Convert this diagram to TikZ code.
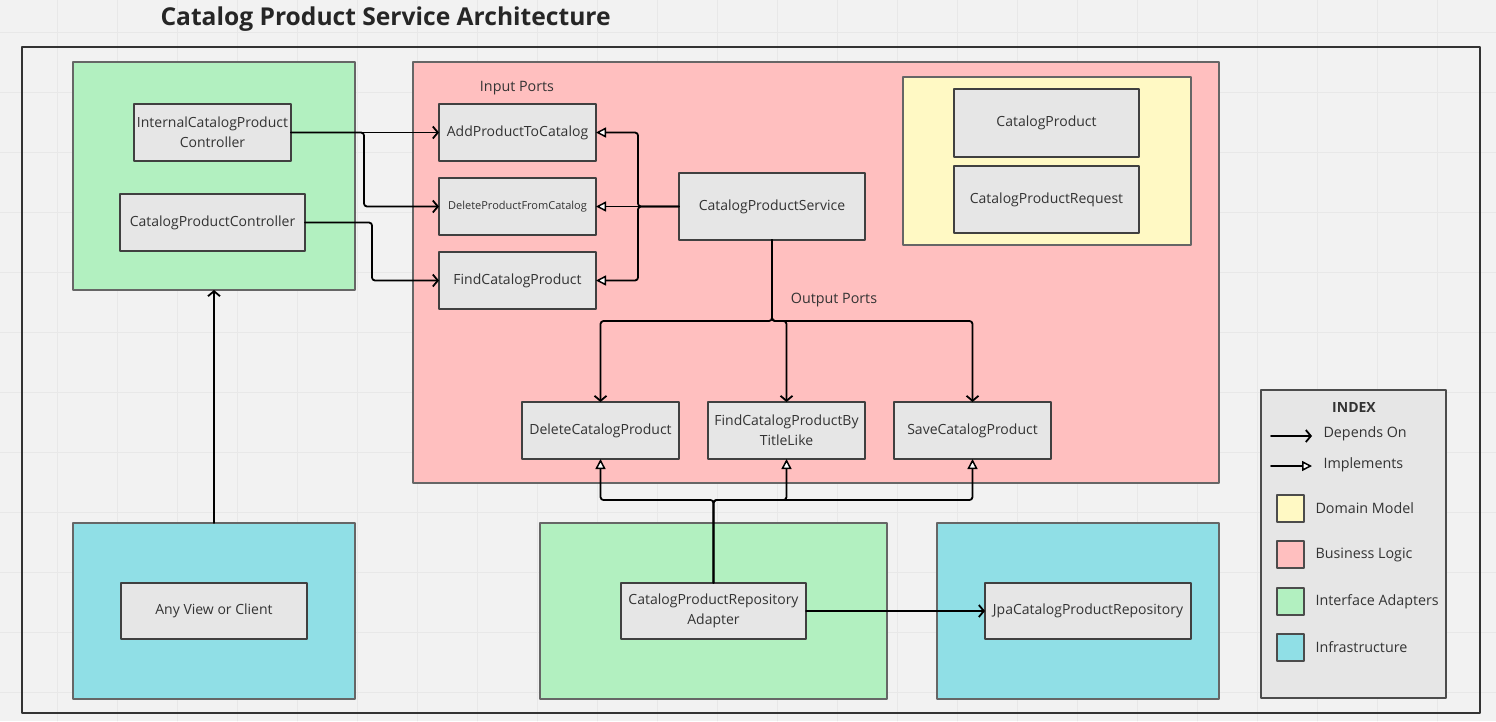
\documentclass[tikz,border=0pt]{standalone}
\usepackage{fontspec}
\setmainfont{Open Sans}
\usetikzlibrary{arrows.meta}
\definecolor{bgcol}{HTML}{F2F2F2}
\definecolor{gridcol}{HTML}{E8E8E8}
\definecolor{compgray}{HTML}{E6E6E6}
\definecolor{txtgray}{HTML}{333333}
\definecolor{domainyellow}{HTML}{FFF9C4}
\definecolor{logicpink}{HTML}{FFBFBF}
\definecolor{adaptgreen}{HTML}{B2F0C0}
\definecolor{infracyan}{HTML}{90DFE6}
\begin{document}
\begin{tikzpicture}[x=1pt,y=-1pt,line join=round,line cap=round]
	\tikzset{
		layer/.style={draw=black!60, line width=1.2pt, inner sep=0pt, outer sep=0pt},
		comp/.style={draw=black!75, fill=compgray, line width=1.2pt, inner sep=0pt, outer sep=0pt,
			text=txtgray, align=center, font=\fontsize{14}{20}\selectfont},
		lbl/.style={text=txtgray, font=\fontsize{14.3}{17}\selectfont},
		dep/.style={-{Straight Barb[length=5pt,width=12pt]}, line width=1.8pt, rounded corners=3pt},
		impl/.style={-{Triangle[length=10pt,width=10pt,fill=white,line width=1.5pt]}, line width=1.8pt, rounded corners=3pt}
	}
	\useasboundingbox (0,0) rectangle (1496,721);
	% background and grid
	\fill[bgcol] (0,0) rectangle (1496,721);
	\foreach \gx in {57,117,...,1497}
	\draw[gridcol,line width=0.8pt] (\gx,0)--(\gx,721);
	\foreach \gy in {32,92,...,721}
	\draw[gridcol,line width=0.8pt] (0,\gy)--(1496,\gy);
	\draw[black!80,line width=1.2pt] (22,47) rectangle (1480,713);
	\node[anchor=west,text=black!85,font=\fontsize{24.6}{30}\bfseries] (title) at (157,19) {Catalog Product Service Architecture};
	% layers
	\node[layer, fill=adaptgreen, minimum width=282pt, minimum height=228pt] (weblayer) at (214,176) {};
	\node[layer, fill=logicpink, minimum width=806pt, minimum height=421pt] (logiclayer) at (816,272.5) {};
	\node[layer, fill=domainyellow, minimum width=288pt, minimum height=168pt] (domainlayer) at (1047,161) {};
	\node[layer, fill=infracyan, minimum width=282pt, minimum height=176pt] (clientlayer) at (214,611) {};
	\node[layer, fill=adaptgreen, minimum width=347pt, minimum height=176pt] (persistlayer) at (713.5,611) {};
	\node[layer, fill=infracyan, minimum width=282pt, minimum height=176pt] (dblayer) at (1078,611) {};
	% components
	\node[comp, minimum width=157pt, minimum height=57pt] (ictrl) at (212.5,132.5) {InternalCatalogProduct\\Controller};
	\node[comp, minimum width=185pt, minimum height=57pt] (ctrl) at (212.5,222.5) {CatalogProductController};
	\node[lbl] (inports) at (517,88) {Input Ports};
	\node[comp, minimum width=157pt, minimum height=57pt] (add) at (517.5,132.5) {AddProductToCatalog};
	\node[comp, minimum width=157pt, minimum height=57pt, font=\fontsize{11}{13}\selectfont] (delin) at (517.5,206.5) {DeleteProductFromCatalog};
	\node[comp, minimum width=157pt, minimum height=57pt] (findin) at (517.5,280.5) {FindCatalogProduct};
	\node[comp, minimum width=186pt, minimum height=67pt] (svc) at (772,206.5) {CatalogProductService};
	\node[comp, minimum width=185pt, minimum height=68pt] (prod) at (1046.5,123) {CatalogProduct};
	\node[comp, minimum width=185pt, minimum height=67pt] (req) at (1046.5,199.5) {CatalogProductRequest};
	\node[lbl] (outports) at (834,300) {Output Ports};
	\node[comp, minimum width=157pt, minimum height=57pt] (delout) at (600.5,430.5) {DeleteCatalogProduct};
	\node[comp, minimum width=157pt, minimum height=57pt] (findout) at (786.5,430.5) {FindCatalogProductBy\\TitleLike};
	\node[comp, minimum width=157pt, minimum height=57pt] (save) at (972.5,430.5) {SaveCatalogProduct};
	\node[comp, minimum width=186pt, minimum height=56pt] (client) at (214,611) {Any View or Client};
	\node[comp, minimum width=185pt, minimum height=56pt] (adapter) at (713.5,611) {CatalogProductRepository\\Adapter};
	\node[comp, minimum width=206pt, minimum height=56pt] (jpa) at (1088,611) {JpaCatalogProductRepository};
	% depends on
	\draw[dep] (ictrl.east) -- (add.west);
	\draw[dep] (ictrl.east) -- ++(73,0) |- (delin.west);
	\draw[dep] (ctrl.east) -- ++(67,0) |- (findin.west);
	\draw[dep] (clientlayer.north) -- (weblayer.south);
	\foreach \port in {delout,findout,save}
	\draw[dep] (svc.south) -- ++(0,81) -| (\port.north);
	\draw[dep] (adapter.east) -- (jpa.west);
	% implements
	\draw[impl] (svc.west) -- ++(-41,0) |- (add.east);
	\draw[impl] (svc.west) -- (delin.east);
	\draw[impl] (svc.west) -- ++(-41,0) |- (findin.east);
	\foreach \port in {delout,findout,save}
	\draw[impl] (adapter.north) -- ++(0,-83) -| (\port.south);
	% index
	\node[layer, draw=black!70, fill=compgray, minimum width=185pt, minimum height=308pt] (index) at (1353.5,544) {};
	\node[text=txtgray, font=\fontsize{14}{17}\bfseries] (indextitle) at (1354,407) {INDEX};
	\coordinate (depa) at (1271,436);
	\coordinate (depb) at (1312,436);
	\coordinate (impa) at (1271,466);
	\coordinate (impb) at (1312,466);
	\draw[dep] (depa) -- (depb);
	\draw[impl] (impa) -- (impb);
	\node[lbl, anchor=west] (deptext) at (1320,434) {Depends On};
	\node[lbl, anchor=west] (imptext) at (1320,465) {Implements};
	\foreach \col/\y/\txt/\nm in {domainyellow/508.5/Domain Model/domain, logicpink/554.5/Business Logic/logic, adaptgreen/601.5/Interface Adapters/adapt, infracyan/647.5/Infrastructure/infra}{
		\node[layer, draw=black!70, fill=\col, minimum width=27pt, minimum height=27pt] (\nm swatch) at (1290.5,\y) {};
		\node[lbl, anchor=west] (\nm text) at (1312,\y) {\txt};
	}
\end{tikzpicture}
\end{document}
